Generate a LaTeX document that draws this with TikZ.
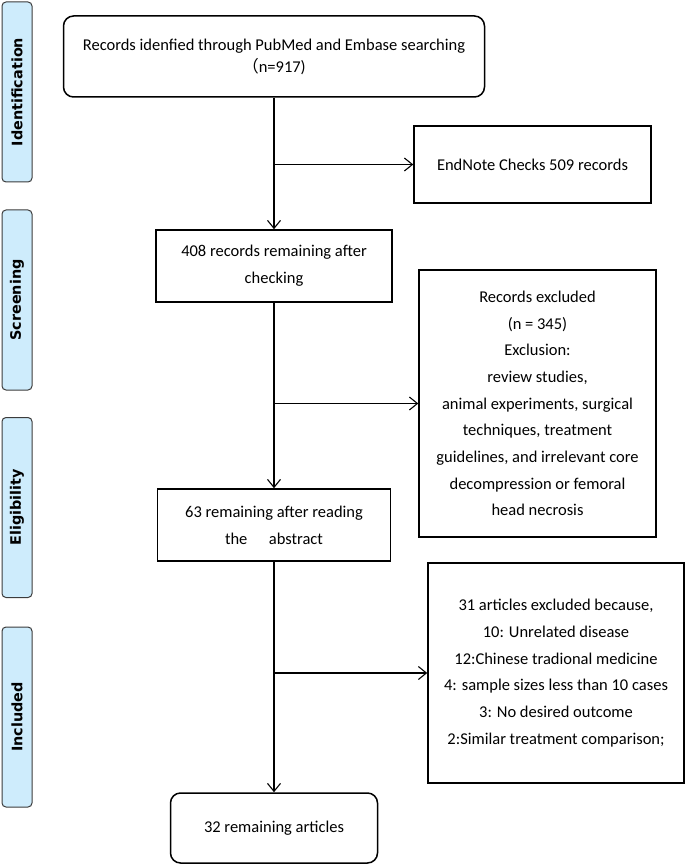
\documentclass[tikz,border=0pt]{standalone}
\usepackage{fontspec}
\setmainfont{Carlito}
\newfontfamily\phasefont{DejaVu Sans}
\newfontfamily\cjk{Noto Sans CJK SC}
\usetikzlibrary{arrows.meta}
\definecolor{phaseblue}{RGB}{206,236,252}
\definecolor{phaseedge}{RGB}{60,60,60}

\begin{document}
\begin{tikzpicture}[
            x = 1pt, y = -1pt,
            every node/.style={font=\fontsize{16.5}{26.7}\selectfont, align=center},
            box/.style={draw, line width = 1.5pt, inner sep = 2pt},
            roundbox/.style={box, rounded corners = 10pt},
            phase/.style={draw=phaseedge, fill=phaseblue, line width = 1pt, rounded corners = 4pt,
                minimum width = 180pt, minimum height = 30pt,
                font=\phasefont\bfseries\fontsize{14.4}{16}\selectfont},
            line/.style={line width = 1.1pt},
            arrow/.style={line, -{Straight Barb[length=8pt, width=13pt]}},
            ]
        \useasboundingbox (0,0) rectangle (685,866);

        \foreach \name/\y/\txt in {ident/92/Identification, screen/300/Screening,
                                   elig/507.5/Eligibility, incl/717/Included}
            \node[phase, rotate=90] (\name) at (17,\y) {\txt};

        \node[roundbox, minimum width=421pt, minimum height=81pt, font=\fontsize{16.5}{22}\selectfont]
            (search) at (274,56.5) {\raisebox{-4pt}{Records idenfied through PubMed and Embase searching}\\\raisebox{-4pt}{{\cjk （}n=917)}};
        \node[box, minimum width=237pt, minimum height=77pt] (endnote) at (532.5,164.5) {EndNote Checks 509 records};
        \node[box, minimum width=236pt, minimum height=72pt] (check) at (274,266) {408 records remaining after\\checking};
        \node[box, minimum width=237pt, minimum height=267pt] (excl1) at (537.5,403.5)
            {Records excluded\\(n = 345)\\Exclusion:\\review studies,\\animal experiments, surgical\\techniques, treatment\\guidelines, and irrelevant core\\decompression or femoral\\head necrosis};
        \node[box, minimum width=233pt, minimum height=72pt] (read) at (274,525) {63 remaining after reading\\the\hspace{1.3em}abstract};
        \node[box, minimum width=256pt, minimum height=220pt] (excl2) at (556,673)
            {31 articles excluded because,\\10: Unrelated disease\\12:Chinese tradional medicine\\4: sample sizes less than 10 cases\\3: No desired outcome\\2:Similar treatment comparison;};
        \node[roundbox, minimum width=207pt, minimum height=70pt] (final) at (274,828) {32 remaining articles};

        \draw[arrow] (search) -- (check);
        \draw[arrow] (search.south |- endnote.west) -- (endnote.west);
        \draw[arrow] (check) -- (read);
        \draw[arrow] (check.south |- excl1.west) -- (excl1.west);
        \draw[arrow] (read) -- (final);
        \draw[arrow] (read.south |- excl2.west) -- (excl2.west);
    \end{tikzpicture}
\end{document}
